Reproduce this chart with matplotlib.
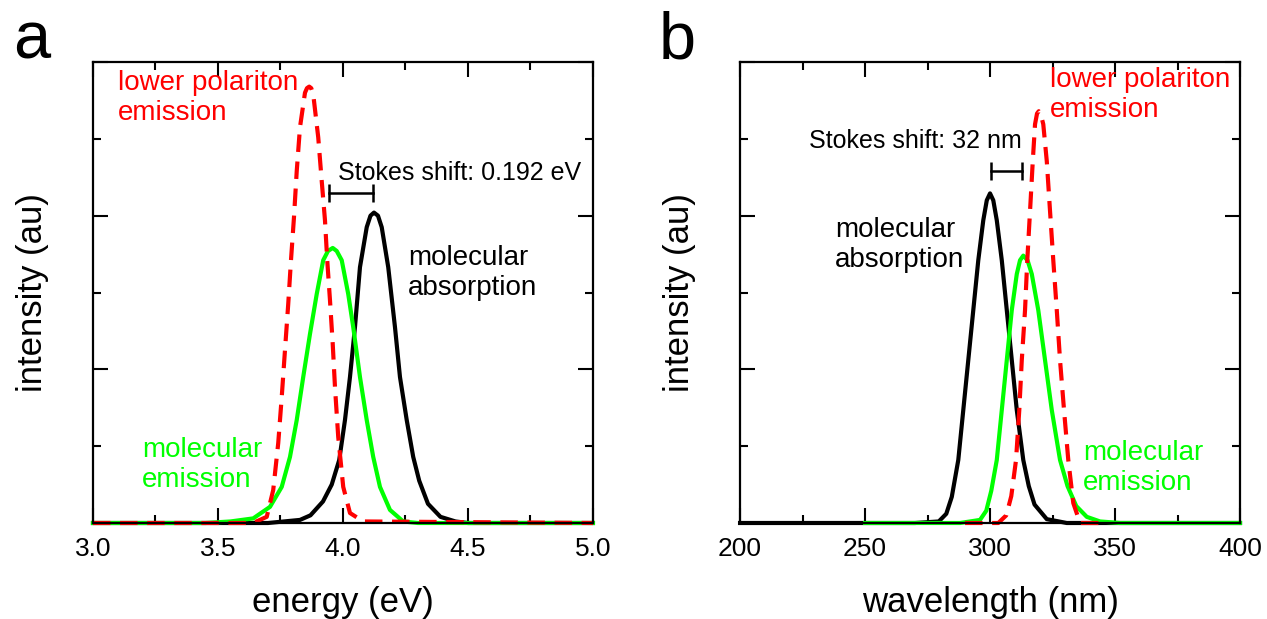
import numpy as np
import matplotlib
matplotlib.use('Agg')
import matplotlib.pyplot as plt
from matplotlib.ticker import MultipleLocator, FormatStrFormatter

plt.rcParams['font.family'] = ['Liberation Sans', 'DejaVu Sans']

# panel a : energy (eV)
red_a_x = [3.00, 3.64, 3.695, 3.721, 3.741, 3.755, 3.768, 3.781, 3.792, 3.804, 3.815, 3.828, 3.848,
           3.856, 3.865, 3.873, 3.881, 3.901, 3.915, 3.928, 3.937, 3.948, 3.959, 3.968, 3.981, 4.001,
           4.028, 4.081, 5.00]
red_a_y = [0.0, 0.0, 0.08, 0.43, 1.04, 1.64, 2.25, 2.85, 3.42, 3.98, 4.58, 5.15, 5.60,
           5.66, 5.68, 5.66, 5.58, 5.02, 4.45, 3.94, 3.42, 2.90, 2.33, 1.77, 1.12, 0.47,
           0.13, 0.02, 0.0]

green_a_x = [3.00, 3.45, 3.55, 3.641, 3.708, 3.755, 3.788, 3.815, 3.841, 3.868, 3.895, 3.921, 3.940,
             3.959, 3.975, 3.995, 4.021, 4.041, 4.068, 4.095, 4.121, 4.148, 4.188, 4.241, 4.30, 5.00]
green_a_y = [0.0, 0.0, 0.02, 0.06, 0.21, 0.47, 0.86, 1.34, 1.90, 2.46, 2.98, 3.42, 3.54,
             3.58, 3.54, 3.42, 2.98, 2.55, 1.90, 1.34, 0.86, 0.47, 0.17, 0.02, 0.0, 0.0]

black_a_x = [3.00, 3.70, 3.828, 3.870, 3.920, 3.955, 3.985, 4.008, 4.028, 4.048, 4.068, 4.095, 4.110, 4.124,
             4.140, 4.155, 4.181, 4.208, 4.228, 4.255, 4.281, 4.305, 4.340, 4.390, 4.450, 4.50, 5.00]
black_a_y = [0.0, 0.0, 0.04, 0.10, 0.28, 0.50, 0.82, 1.34, 1.90, 2.55, 3.33, 3.85, 4.00, 4.04,
             4.00, 3.85, 3.33, 2.55, 1.90, 1.34, 0.86, 0.55, 0.25, 0.08, 0.02, 0.0, 0.0]

# panel b : wavelength (nm)
black_b_x = [200, 270, 279.5, 282.5, 284.7, 287.3, 289.3, 291.3, 293.3, 295.3, 297.3, 298.7, 300.0, 301.3,
             302.7, 304.7, 306.7, 308.7, 310.7, 313.3, 315.5, 317.8, 322.7, 330.7, 400]
black_b_y = [0.0, 0.0, 0.02, 0.12, 0.34, 0.82, 1.47, 2.12, 2.77, 3.42, 3.94, 4.20, 4.29, 4.20,
             3.94, 3.42, 2.77, 2.12, 1.47, 0.82, 0.48, 0.24, 0.05, 0.0, 0.0]

green_b_x = [250, 288, 296, 298.5, 300.5, 302.7, 304.7, 306.7, 308.7, 310.7, 312.0, 313.3, 315.0, 316.7,
             319.3, 322, 324.7, 328, 331, 334.5, 338.7, 344, 352, 400]
green_b_y = [0.0, 0.0, 0.04, 0.16, 0.42, 0.82, 1.47, 2.12, 2.77, 3.24, 3.42, 3.48, 3.42, 3.24,
             2.77, 2.12, 1.47, 0.82, 0.48, 0.22, 0.08, 0.02, 0.0, 0.0]

red_b_x = [290, 303.3, 306.5, 308.5, 310.4, 311.7, 312.7, 314.0, 314.9, 316.0, 317.1, 318.0, 318.8, 319.5,
           320.3, 321.3, 322.7, 324.0, 325.3, 326.7, 328.0, 329.6, 331.3, 333.3, 336, 345]
red_b_y = [0.0, 0.0, 0.10, 0.35, 0.82, 1.47, 2.12, 2.77, 3.42, 4.06, 4.71, 5.19, 5.33, 5.36,
           5.32, 5.19, 4.71, 4.06, 3.42, 2.77, 2.12, 1.47, 0.82, 0.26, 0.0, 0.0]

# stokes shift bars (x start, x end, y)
stokes_a = [3.944, 4.120, 4.29]
stokes_b = [300.4, 312.7, 4.58]

fig = plt.figure(figsize=(12.67, 6.19), dpi=100)
ax1 = fig.add_axes([0.0734, 0.1551, 0.3946, 0.7447])
ax2 = fig.add_axes([0.5841, 0.1551, 0.3946, 0.7447])

lw = 3.0
ax1.plot(black_a_x, black_a_y, color='black', lw=lw, clip_on=False)
ax1.plot(green_a_x, green_a_y, color='#00ff00', lw=lw, clip_on=False)
ax1.plot(red_a_x, red_a_y, '--', color='#ff0000', lw=lw, dashes=(4.2, 2.3), clip_on=False)

ax2.plot(black_b_x, black_b_y, color='black', lw=lw, clip_on=False)
ax2.plot(green_b_x, green_b_y, color='#00ff00', lw=lw, clip_on=False)
ax2.plot(red_b_x, red_b_y, '--', color='#ff0000', lw=lw, dashes=(4.2, 2.3), clip_on=False)

for ax, s in [(ax1, stokes_a), (ax2, stokes_b)]:
    ax.plot([s[0], s[1]], [s[2], s[2]], color='black', lw=1.8,
            marker='|', markersize=13, markeredgewidth=1.8)

ax1.set_xlim(3.0, 5.0)
ax2.set_xlim(200, 400)
for ax in (ax1, ax2):
    ax.set_ylim(0, 6)
    ax.yaxis.set_major_locator(MultipleLocator(2))
    ax.yaxis.set_minor_locator(MultipleLocator(1))
    ax.set_yticklabels([])
    ax.tick_params(which='both', direction='in', top=True, right=True, width=1.5, labelsize=19, pad=10)
    ax.tick_params(which='major', length=11)
    ax.tick_params(which='minor', length=6)
    for sp in ax.spines.values():
        sp.set_linewidth(1.6)
    ax.set_ylabel('intensity (au)', fontsize=25, labelpad=22)

ax1.xaxis.set_major_locator(MultipleLocator(0.5))
ax1.xaxis.set_minor_locator(MultipleLocator(0.25))
ax1.xaxis.set_major_formatter(FormatStrFormatter('%.1f'))
ax2.xaxis.set_major_locator(MultipleLocator(50))
ax2.xaxis.set_minor_locator(MultipleLocator(25))

ax1.set_xlabel('energy (eV)', fontsize=25, labelpad=18)
ax2.set_xlabel('wavelength (nm)', fontsize=25, labelpad=18)

# labels panel a
ax1.text(3.10, 5.90, 'lower polariton\nemission', color='#ff0000', fontsize=20, va='top', linespacing=1.2)
ax1.text(4.26, 3.62, 'molecular\nabsorption', color='black', fontsize=20, va='top', linespacing=1.2)
ax1.text(3.196, 1.12, 'molecular\nemission', color='#00ff00', fontsize=20, va='top', linespacing=1.2)
ax1.text(3.98, 4.56, 'Stokes shift: 0.192 eV', color='black', fontsize=18, va='center')

# labels panel b
ax2.text(238, 3.98, 'molecular\nabsorption', color='black', fontsize=20, va='top', linespacing=1.2)
ax2.text(324, 5.94, 'lower polariton\nemission', color='#ff0000', fontsize=20, va='top', linespacing=1.2)
ax2.text(337.2, 1.08, 'molecular\nemission', color='#00ff00', fontsize=20, va='top', linespacing=1.2)
ax2.text(312.8, 4.97, 'Stokes shift: 32 nm', color='black', fontsize=18, va='center', ha='right')

fig.text(0.010, 0.905, 'a', fontsize=48)
fig.text(0.520, 0.905, 'b', fontsize=48)

fig.savefig('out.png', dpi=100)
